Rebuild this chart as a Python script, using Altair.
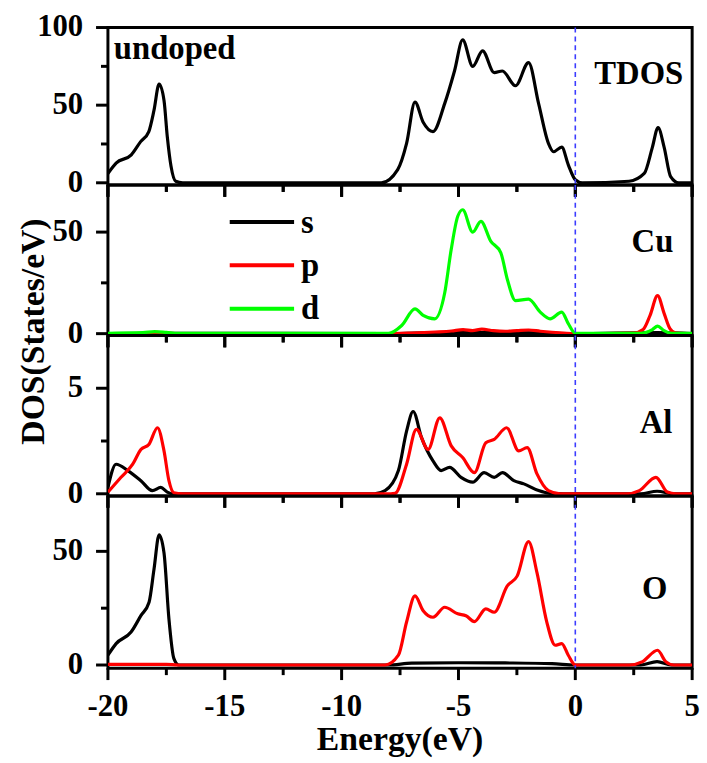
import altair as alt
import pandas as pd

# ---------------- DOS curves (energy in eV, DOS in states/eV) ----------------
tdos_E = [-20, -19.65, -19.0, -18.6, -18.25, -18.03, -17.81, -17.6, -17.46, -17.3, -17.1, -16.8,
          -8.3, -7.6, -7.22, -6.86, -6.51, -6.09, -5.59, -5.17, -4.82, -4.39, -3.97, -3.47, -3.12,
          -2.56, -2.0, -1.57, -1.15, -0.93, -0.58, -0.3, 0.0, 0.3, 2.3, 2.95, 3.3, 3.54, 3.8, 4.08,
          4.43, 5.0]
tdos_V = [6, 12.7, 18, 26.5, 33, 46.6, 63.6, 53, 29.7, 10.6, 1, 0,
          0, 8.5, 25.4, 52, 39, 33, 51, 72, 92, 75, 85, 71, 72,
          62.5, 77.4, 51, 25.4, 20, 23, 11.6, 2, 0, 1, 6, 23, 35.6, 23, 4,
          0, 0]

cu_s_E = [-20, -17.8, -8, -6, -4.5, -3, -1.5, 0, 3.5, 5]
cu_s_V = [0, 0.2, 0, 0.5, 0.6, 0.5, 0.4, 0, 0.5, 0]
cu_p_E = [-20, -18.3, -17.9, -17.5, -17, -8, -7.0, -6.0, -5.3, -4.8, -4.4, -4.0, -3.5, -3.0,
          -2.5, -2.0, -1.5, -0.5, 0, 2.5, 2.9, 3.2, 3.52, 3.8, 4.05, 4.3, 5]
cu_p_V = [0, 0.2, 0.6, 0.3, 0, 0, 0.3, 0.8, 1.3, 2.0, 1.5, 2.2, 1.5, 1.2,
          1.5, 1.8, 1.2, 0.3, 0, 0.3, 2, 9, 18.7, 10, 2.5, 0.3, 0]
cu_d_E = [-20, -18.5, -18.0, -17.5, -17.0, -8.0, -7.43, -6.86, -6.51, -6.02, -5.59, -5.31,
          -5.03, -4.82, -4.39, -4.04, -3.62, -3.19, -2.91, -2.56, -2.0, -1.5, -1.08, -0.58, -0.3,
          0.0, 2.8, 3.3, 3.52, 3.8, 4.1, 5.0]
cu_d_V = [0.2, 0.5, 1.0, 0.6, 0.1, 0.1, 4, 12.2, 9, 7.3, 20, 41.5,
          57.8, 61, 50, 55.3, 45.6, 39.9, 26.8, 16.3, 17, 10.6, 7.3, 10.6, 4.9,
          0.2, 0.2, 2, 3.7, 1.5, 0.2, 0.1]

al_s_E = [-20, -19.65, -19.15, -18.59, -18.1, -17.74, -17.46, -17.2, -8.6, -8.14, -7.57, -7.22,
          -6.94, -6.58, -6.09, -5.74, -5.38, -4.89, -4.39, -3.9, -3.47, -3.12, -2.63, -2.2, -1.57,
          -1.08, -0.5, 2.8, 3.5, 4.2, 5]
al_s_V = [0.3, 1.4, 1.1, 0.62, 0.15, 0.3, 0.08, 0, 0, 0.15, 1.1, 2.97,
          3.9, 2.66, 1.56, 1.1, 1.25, 0.78, 0.55, 1.0, 0.78, 1.0, 0.62, 0.47, 0.15,
          0.02, 0, 0, 0.12, 0, 0]
al_p_E = [-20, -19.44, -18.94, -18.59, -18.24, -17.88, -17.6, -17.39, -17.18, -16.8, -7.9, -7.71,
          -7.22, -6.8, -6.3, -5.8, -5.31, -4.82, -4.32, -3.83, -3.47, -2.94, -2.42, -2.06, -1.64,
          -1.15, -0.65, 2.2, 2.74, 3.45, 3.94, 4.3, 5]
al_p_V = [0.08, 0.78, 1.4, 2.1, 2.35, 3.13, 2.03, 0.62, 0.05, 0, 0, 0.02,
          1.4, 3.05, 2.1, 3.6, 2.27, 1.72, 1.0, 2.42, 2.58, 3.13, 2.03, 2.19, 0.94,
          0.15, 0, 0, 0.15, 0.78, 0.08, 0, 0]

o_s_E = [-20, -19.65, -19.01, -18.59, -18.24, -18.03, -17.81, -17.6, -17.39, -17.18, -16.97,
         -16.5, -8.0, -7.0, -5.0, -3.0, -1.0, 0.0, 2.8, 3.5, 4.1, 5]
o_s_V = [4.3, 9.4, 14.5, 21.7, 27.6, 42, 57.3, 49.3, 20.3, 2.9, 0,
         0, 0, 0.8, 1.0, 0.9, 0.6, 0, 0, 1.5, 0, 0]
o_p_E = [-20, -17.5, -17, -8.14, -7.57, -7.22, -6.86, -6.51, -6.09, -5.59, -5.03, -4.68, -4.32,
         -3.83, -3.47, -2.91, -2.49, -2.0, -1.64, -1.22, -0.86, -0.58, -0.3, 0, 2.3, 2.88, 3.52,
         3.87, 4.22, 5]
o_p_V = [0.3, 0.3, 0, 0, 4.3, 18.9, 30.4, 23.9, 21, 25.4, 22.5, 21.7, 19.1,
         24.7, 23.2, 34.8, 39.1, 54.3, 40.6, 18.9, 8.7, 9.4, 4.3, 0, 0, 1.5, 6.5,
         1.5, 0, 0]

# ---------------- ticks and their labels ----------------
X_MAJOR = [-20, -15, -10, -5, 0, 5]
X_LABELS = ["-20", "-15", "-10", "-5", "0", "5"]
X_MINOR = [-17.5, -12.5, -7.5, -2.5, 2.5]
ORBITALS = ["s", "p", "d"]
ORB_COLORS = ["#000000", "#ff0000", "#00ff00"]

FONT = "Liberation Serif"
W = 590
LINE_W = 3.2
MAJOR_TICK = 12
MINOR_TICK = 7
TICK_W = 3
TICK_FS = 31
TITLE_FS = 34


def curve(E, V, orb):
    return pd.DataFrame({"E": E, "DOS": V, "orb": orb})


def text_mark(df, size=33, **kw):
    return alt.Chart(df).mark_text(font=FONT, fontSize=size, fontWeight="bold", color="black", **kw)


def panel(curves, height, ydom, y_major, y_labels, y_minor, tags, bottom=False, ytitle=None,
          legend_rows=None, ticks_from_above=False):
    X = alt.X("E:Q", scale=alt.Scale(domain=[-20, 5], nice=False, zero=False), axis=None)
    Y = alt.Y("DOS:Q", scale=alt.Scale(domain=ydom, nice=False, zero=False), axis=None)

    layers = []
    for df in curves:
        orb = df["orb"].iloc[0]
        layers.append(
            alt.Chart(df)
            .mark_line(clip=True, strokeWidth=LINE_W, interpolate="monotone",
                       color=ORB_COLORS[ORBITALS.index(orb)])
            .encode(x=X, y=Y)
        )

    # outward tick marks on the bottom and left edges (thin filled bars)
    for vals, size in ((X_MAJOR, MAJOR_TICK), (X_MINOR, MINOR_TICK)):
        layers.append(
            alt.Chart(pd.DataFrame({"E": vals}))
            .mark_rect(width=TICK_W, color="black", opacity=1)
            .encode(x=X, y=alt.value(height), y2=alt.value(height + size))
        )
        # the energy ticks of the panel above reach down into this one
        if ticks_from_above:
            layers.append(
                alt.Chart(pd.DataFrame({"E": vals}))
                .mark_rect(width=TICK_W, color="black", opacity=1)
                .encode(x=X, y=alt.value(0), y2=alt.value(size))
            )
    for vals, size in ((y_major, MAJOR_TICK), (y_minor, MINOR_TICK)):
        layers.append(
            alt.Chart(pd.DataFrame({"DOS": vals}))
            .mark_rect(height=TICK_W, color="black", opacity=1)
            .encode(y=Y, x=alt.value(-size), x2=alt.value(0))
        )

    # y tick labels
    layers.append(
        text_mark(pd.DataFrame({"DOS": y_major, "lab": y_labels}), size=TICK_FS,
                  align="right", baseline="middle")
        .encode(y=Y, x=alt.value(-25), text="lab:N")
    )
    if bottom:
        layers.append(
            text_mark(pd.DataFrame({"E": X_MAJOR, "lab": X_LABELS}), size=TICK_FS,
                      align="center", baseline="middle")
            .encode(x=X, y=alt.value(height + 39), text="lab:N")
        )
        layers.append(
            text_mark(pd.DataFrame({"t": ["Energy(eV)"]}), size=TITLE_FS,
                      align="center", baseline="middle")
            .encode(x=alt.value(W / 2), y=alt.value(height + 73), text="t:N")
        )
    if ytitle:
        layers.append(
            text_mark(pd.DataFrame({"t": [ytitle]}), size=TITLE_FS, angle=270,
                      align="center", baseline="middle")
            .encode(x=alt.value(-75), y=alt.value(148), text="t:N")
        )

    # Fermi level
    layers.append(
        alt.Chart(pd.DataFrame({"E": [0.0]}))
        .mark_rule(color="#3c3cff", strokeDash=[5, 4], strokeWidth=1.6)
        .encode(x=X)
    )
    for text, tx, ty, align in tags:
        layers.append(
            text_mark(pd.DataFrame({"t": [text]}), align=align, baseline="alphabetic")
            .encode(x=alt.value(tx), y=alt.value(ty), text="t:N")
        )
    # orbital key
    if legend_rows:
        for orb, (line_y, text_y) in zip(ORBITALS, legend_rows):
            color = ORB_COLORS[ORBITALS.index(orb)]
            layers.append(
                alt.Chart(pd.DataFrame({"orb": [orb]}))
                .mark_rule(color=color, strokeWidth=4)
                .encode(x=alt.value(123), x2=alt.value(188), y=alt.value(line_y))
            )
            layers.append(
                text_mark(pd.DataFrame({"orb": [orb]}), align="left", baseline="alphabetic")
                .encode(x=alt.value(195), y=alt.value(text_y), text="orb:N")
            )
    return alt.layer(*layers).properties(width=W, height=height)


p_tdos = panel([curve(tdos_E, tdos_V, "s")], 159, [-1.4, 100],
               [0, 50, 100], ["0", "50", "100"], [25, 75],
               [("undoped", 6, 32, "left"), ("TDOS", 581, 57, "right")])
p_cu = panel([curve(cu_s_E, cu_s_V, "s"), curve(cu_p_E, cu_p_V, "p"), curve(cu_d_E, cu_d_V, "d")],
             152, [-0.9, 73.2], [0, 50], ["0", "50"], [25], [("Cu", 571, 68, "right")],
             ytitle="DOS(States/eV)", legend_rows=[(37.5, 48), (81, 92), (125, 135)],
             ticks_from_above=True)
p_al = panel([curve(al_s_E, al_s_V, "s"), curve(al_p_E, al_p_V, "p")],
             162, [-0.1, 7.5], [0, 5], ["0", "5"], [2.5], [("Al", 570, 98, "right")],
             ticks_from_above=True)
p_o = panel([curve(o_s_E, o_s_V, "s"), curve(o_p_E, o_p_V, "p")],
            174, [-1.4, 74.4], [0, 50], ["0", "50"], [25], [("O", 565, 104, "right")],
            bottom=True, ticks_from_above=True)

chart = (
    alt.vconcat(p_tdos, p_cu, p_al, p_o, spacing=0, bounds="flush")
    .resolve_scale(x="independent", y="independent")
    .properties(padding={"left": 15, "top": 6, "right": 5, "bottom": 5})
    .configure_view(stroke="black", strokeWidth=3)
)

chart.save("out.html", embed_options={"renderer": "svg", "actions": False})
